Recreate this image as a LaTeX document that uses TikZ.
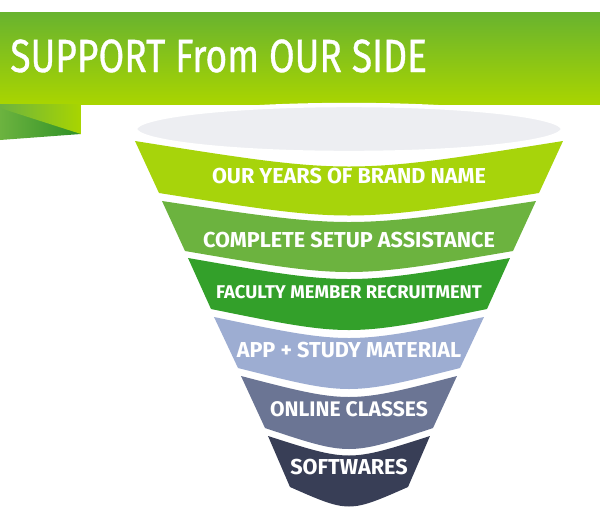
\documentclass[tikz,border=0pt]{standalone}
\usepackage{fontspec}
\setmainfont{Fira Sans}
\newfontfamily\titlefont{Fira Sans}[FakeBold=0.8]
\usetikzlibrary{shadings}

\definecolor{bannertop}{HTML}{68B32F}
\definecolor{bannerbot}{HTML}{A9D500}
\definecolor{bandone}{HTML}{A7D40B}
\definecolor{bandtwo}{HTML}{6CB33F}
\definecolor{bandthree}{HTML}{33A02A}
\definecolor{bandfour}{HTML}{9DADD2}
\definecolor{bandfive}{HTML}{6B7594}
\definecolor{bandsix}{HTML}{383E56}
\definecolor{rim}{HTML}{EDEEF2}

% one slice of the funnel: colour, top y, bottom y, top half width, bottom half width, top sag, bottom sag
\newcommand{\funnelband}[7]{%
  \fill[#1] (349-#4,#2) -- (349-#5,#3) .. controls (349,#3+2*#7) .. (349+#5,#3)
    -- (349+#4,#2) .. controls (349,#2+2*#6) .. (349-#4,#2) -- cycle;
}

\begin{document}
\begin{tikzpicture}[x=0.02cm,y=-0.02cm,
  band text/.style={text=white,font=\bfseries\fontsize{12.3}{14}\selectfont,inner sep=0pt},
  title text/.style={text=white,font=\titlefont\fontsize{26.5}{30}\selectfont,inner sep=0pt,anchor=base west,xscale=0.8,transform shape}]
  \useasboundingbox (0,0) rectangle (600,512);

  % banner
  \shade[top color=bannertop,bottom color=bannerbot] (0,12) rectangle (600,104);
  \shade[left color=bandtwo,right color=bandthree!90!black] (0,104) -- (81,104) -- (81,134) -- (0,140) -- cycle;
  \shade[left color=bandtwo,right color=bannerbot] (0,104) -- (81,104) -- (81,134) -- (0,108) -- cycle;
  \node[title text] (title) at (10,72) {SUPPORT From OUR SIDE};

  % funnel
  \funnelband{bandone}{141}{193}{214}{190}{17}{15}
  \funnelband{bandtwo}{201}{251}{187}{164}{14}{14}
  \funnelband{bandthree}{258}{309}{161}{138}{14}{14}
  \funnelband{bandfour}{317}{368}{135}{111}{14}{14}
  \funnelband{bandfive}{376}{428}{108}{84}{14}{14}
  \funnelband{bandsix}{436}{487}{81}{59}{13}{13}
  \draw[fill=rim,draw=white,line width=2.5pt] (349,129) ellipse [x radius=214,y radius=24];

  \node[band text] (1) at (349,176) {OUR YEARS OF BRAND NAME};
  \node[band text] (2) at (349,240) {COMPLETE SETUP ASSISTANCE};
  \node[band text,font=\bfseries\fontsize{10.5}{13}\selectfont] (3) at (349,292) {FACULTY MEMBER RECRUITMENT};
  \node[band text] (4) at (349,350) {APP + STUDY MATERIAL};
  \node[band text,font=\bfseries\fontsize{12}{14}\selectfont] (5) at (349,409) {ONLINE CLASSES};
  \node[band text] (6) at (349,467) {SOFTWARES};
\end{tikzpicture}
\end{document}
